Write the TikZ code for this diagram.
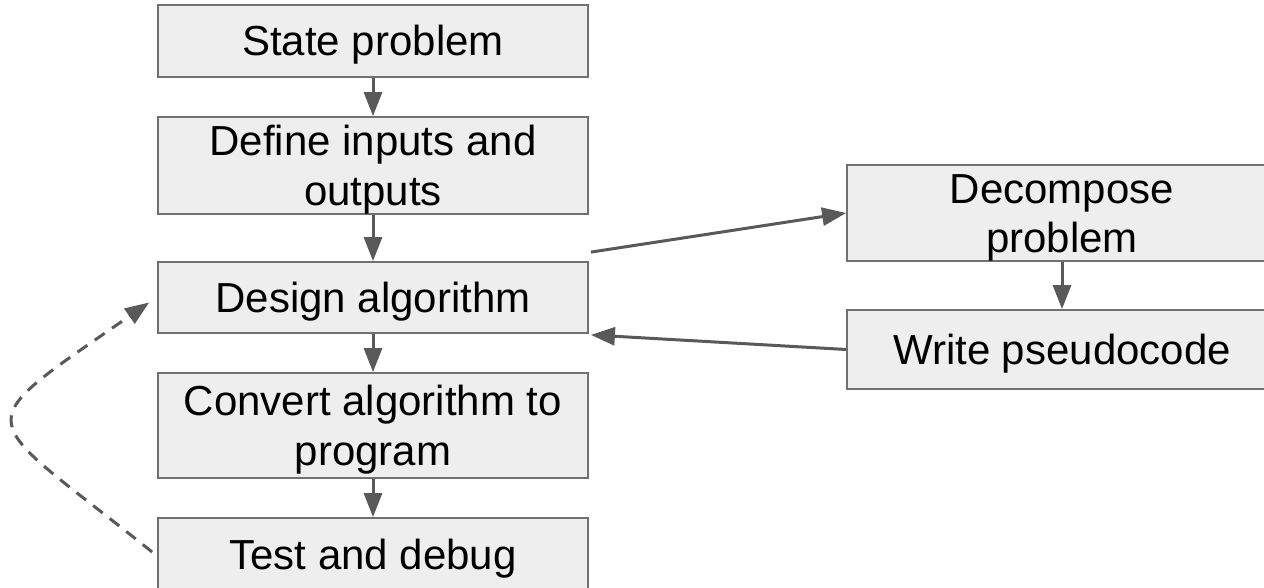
\documentclass[tikz,border=0pt]{standalone}
\usepackage{fontspec}
\setmainfont{Liberation Sans}
\usetikzlibrary{
  arrows.meta,
  calc,
}
\definecolor{boxfill}{HTML}{EEEEEE}
\definecolor{boxline}{HTML}{707070}
\definecolor{arrowgray}{HTML}{595959}

\begin{document}
\begin{tikzpicture}[x=1pt,y=-1pt,
    stage/.style={draw=boxline,line width=1.8pt,fill=boxfill,minimum width=430pt,inner sep=0pt,
        align=center,font=\fontsize{42}{50}\selectfont,text height=30pt,text depth=0pt},
    twoline/.style={text height=80pt},
    flow/.style={draw=arrowgray,line width=3pt,-{Triangle[length=24pt,width=18pt]}},
  ]
  \useasboundingbox (0,0) rectangle (1264,588);

  % main column
  \node[stage,minimum height=72pt] (state) at (373,41) {State problem};
  \node[stage,twoline,minimum height=97pt] (define) at (373,165.5) {Define inputs and\\outputs};
  \node[stage,minimum height=71pt] (design) at (373,297.5) {Design algorithm};
  \node[stage,twoline,minimum height=105pt] (convert) at (373,425.5) {Convert algorithm to\\program};
  \node[stage,minimum height=72pt] (test) at (373,554) {Test and debug};

  % side branch
  \node[stage,twoline,minimum height=96pt] (decompose) at (1062,213) {Decompose\\problem};
  \node[stage,minimum height=79pt] (pseudo) at (1062,349.5) {Write pseudocode};

  \foreach \a/\b in {state/define,define/design,design/convert,convert/test,decompose/pseudo}{
      \draw[flow] (\a) -- (\b);
    }

  \draw[flow] ($(design.north east)+(2,-9)$) -- (decompose.west);
  \draw[flow] (pseudo.west) -- ($(design.south east)+(2,1)$);

  % loop back
  \coordinate (loopstart) at ($(test.west)+(-5,-2)$);
  \coordinate (loopend) at ($(design.west)+(-8,5)$);
  \draw[flow,dash pattern=on 12pt off 9pt] (loopstart) .. controls +(-178,-143) and +(-187,130) .. (loopend);
\end{tikzpicture}
\end{document}
